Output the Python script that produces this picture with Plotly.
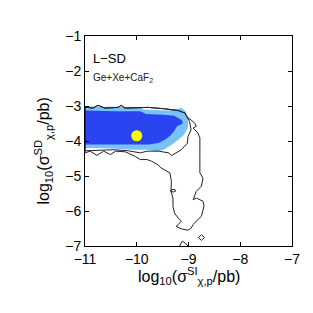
import plotly.graph_objects as go

# ---- data (log10 cross-sections) ----
x_ticks = [-11, -10, -9, -8, -7]
x_ticktext = ["−11", "−10", "−9", "−8", "−7"]
y_ticks = [-7, -6, -5, -4, -3, -2, -1]
y_ticktext = ["−7", "−6", "−5", "−4", "−3", "−2", "−1"]

# 95% (light blue) credible region
light_x = [-11.0, -10.67, -10.29, -9.93, -9.87, -9.38, -9.22, -9.13, -9.06, -9.01, -9.01, -9.09,
           -9.19, -9.32, -9.48, -9.61, -9.77, -10.09, -10.41, -10.74, -11.0]
light_y = [-3.01, -3.02, -3.02, -3.03, -3.10, -3.13, -3.08, -3.06, -3.15, -3.34, -3.63, -3.82,
           -3.96, -4.10, -4.25, -4.30, -4.25, -4.25, -4.22, -4.20, -4.20]

# 68% (dark blue) credible region
dark_x = [-11.0, -10.41, -9.93, -9.82, -9.48, -9.28, -9.13, -9.11, -9.22, -9.28, -9.35, -9.45,
          -9.58, -9.77, -10.3, -11.0]
dark_y = [-3.13, -3.15, -3.15, -3.23, -3.25, -3.28, -3.40, -3.50, -3.58, -3.72, -3.84, -3.96,
          -4.06, -4.10, -4.10, -4.10]

# outer contour (profile likelihood, 95%)
outer_x = [-11.0, -10.85, -10.75, -10.62, -10.36, -10.30, -10.23, -9.78, -9.46, -9.20, -9.07,
           -9.01, -8.95, -8.88, -8.85, -8.91, -8.82, -8.78, -8.78, -8.78, -8.72, -8.75, -8.85,
           -8.91, -8.85, -8.72, -8.70, -8.72, -8.75, -8.85, -8.91, -8.95, -9.01, -9.14, -9.24,
           -9.20, -9.14, -9.20, -9.27, -9.30, -9.30, -9.34, -9.33, -9.36, -9.53, -9.59, -9.71,
           -9.80, -9.93, -10.03, -10.22, -10.41, -10.51, -10.64, -10.77, -10.90, -11.0, -11.0]
outer_y = [-3.03, -3.06, -2.98, -3.06, -3.04, -2.98, -3.06, -3.04, -3.08, -3.13, -3.20,
           -3.34, -3.40, -3.49, -3.58, -3.63, -3.77, -3.91, -4.49, -4.91, -5.06, -5.29, -5.44,
           -5.68, -5.63, -5.72, -5.86, -5.96, -6.15, -6.29, -6.39, -6.49, -6.55, -6.51, -6.44,
           -6.39, -6.29, -6.20, -6.06, -5.87, -5.63, -5.44, -5.15, -4.91, -4.77, -4.68, -4.58,
           -4.53, -4.53, -4.44, -4.31, -4.29, -4.39, -4.29, -4.41, -4.29, -4.34, -3.03]

# inner contour (profile likelihood, 68%)
inner_x = [-11.0, -10.85, -10.75, -10.62, -10.36, -10.30, -10.23, -9.78, -9.46, -9.20, -9.07,
           -9.04, -8.98, -8.95, -9.01, -9.02, -9.14, -9.33, -9.38, -9.58, -9.80, -9.93, -10.16,
           -10.45, -10.93, -11.0, -11.0]
inner_y = [-3.03, -3.06, -2.98, -3.06, -3.04, -2.98, -3.06, -3.04, -3.08, -3.13, -3.20,
           -3.29, -3.44, -3.68, -3.87, -4.06, -4.25, -4.42, -4.34, -4.29, -4.29, -4.34, -4.28,
           -4.25, -4.28, -4.28, -3.03]

# small isolated contour islands
loop_x = [-9.34, -9.28, -9.24, -9.29, -9.34, -9.34]
loop_y = [-5.40, -5.38, -5.42, -5.46, -5.44, -5.40]
diamond_x = [-8.81, -8.75, -8.69, -8.75, -8.81]
diamond_y = [-6.76, -6.68, -6.76, -6.84, -6.76]
arc_x = [-9.17, -9.12, -9.06, -9.01]
arc_y = [-7.0, -6.86, -6.92, -7.0]

# best fit point
best_x = [-10.0]
best_y = [-3.85]

FONT = "Liberation Sans, Arial, sans-serif"
line_style = dict(color="#222222", width=1)

fig = go.Figure()
fig.add_trace(go.Scatter(x=light_x, y=light_y, fill="toself", mode="none",
                         fillcolor="#78c2f7", hoverinfo="skip"))
fig.add_trace(go.Scatter(x=dark_x, y=dark_y, fill="toself", mode="none",
                         fillcolor="#2a44f2", hoverinfo="skip"))
for xs, ys in [(outer_x, outer_y), (inner_x, inner_y), (loop_x, loop_y),
               (diamond_x, diamond_y), (arc_x, arc_y)]:
    fig.add_trace(go.Scatter(x=xs, y=ys, mode="lines", line=line_style, hoverinfo="skip"))
fig.add_trace(go.Scatter(x=best_x, y=best_y, mode="markers",
                         marker=dict(color="#ffff00", size=11, line=dict(width=0))))

fig.add_annotation(x=-10.88, y=-1.65, text="L−SD", showarrow=False, xanchor="left",
                   yanchor="middle", font=dict(family=FONT, size=13, color="black"))
fig.add_annotation(x=-10.88, y=-2.2, text="Ge+Xe+CaF<sub>2</sub>", showarrow=False,
                   xanchor="left", yanchor="middle", font=dict(family=FONT, size=10, color="#222"))

# axis titles
fig.add_annotation(x=0.5, y=0, xref="paper", yref="paper", xanchor="center", yanchor="top",
                   yshift=-17, showarrow=False,
                   text="log<sub>10</sub>(σ<sup>SI</sup><sub>χ,p</sub>/pb)",
                   font=dict(family=FONT, size=16, color="black"))
fig.add_annotation(x=0, y=0.45, xref="paper", yref="paper", xanchor="right", yanchor="middle",
                   xshift=-29, textangle=-90, showarrow=False,
                   text="log<sub>10</sub>(σ<sup>SD</sup><sub>χ,p</sub>/pb)",
                   font=dict(family=FONT, size=16, color="black"))

axis_common = dict(showline=True, linecolor="black", linewidth=1, mirror="ticks",
                   ticks="inside", ticklen=4, tickcolor="black", showgrid=False,
                   zeroline=False, tickfont=dict(family=FONT, size=14, color="black"))
fig.update_xaxes(range=[-11, -7], tickvals=x_ticks, ticktext=x_ticktext, **axis_common)
fig.update_yaxes(range=[-7, -1], tickvals=y_ticks, ticktext=y_ticktext, **axis_common)
fig.update_layout(width=313, height=313, margin=dict(l=77, r=29, t=28, b=75),
                  paper_bgcolor="white", plot_bgcolor="white", showlegend=False)
fig.write_html("out.html")
